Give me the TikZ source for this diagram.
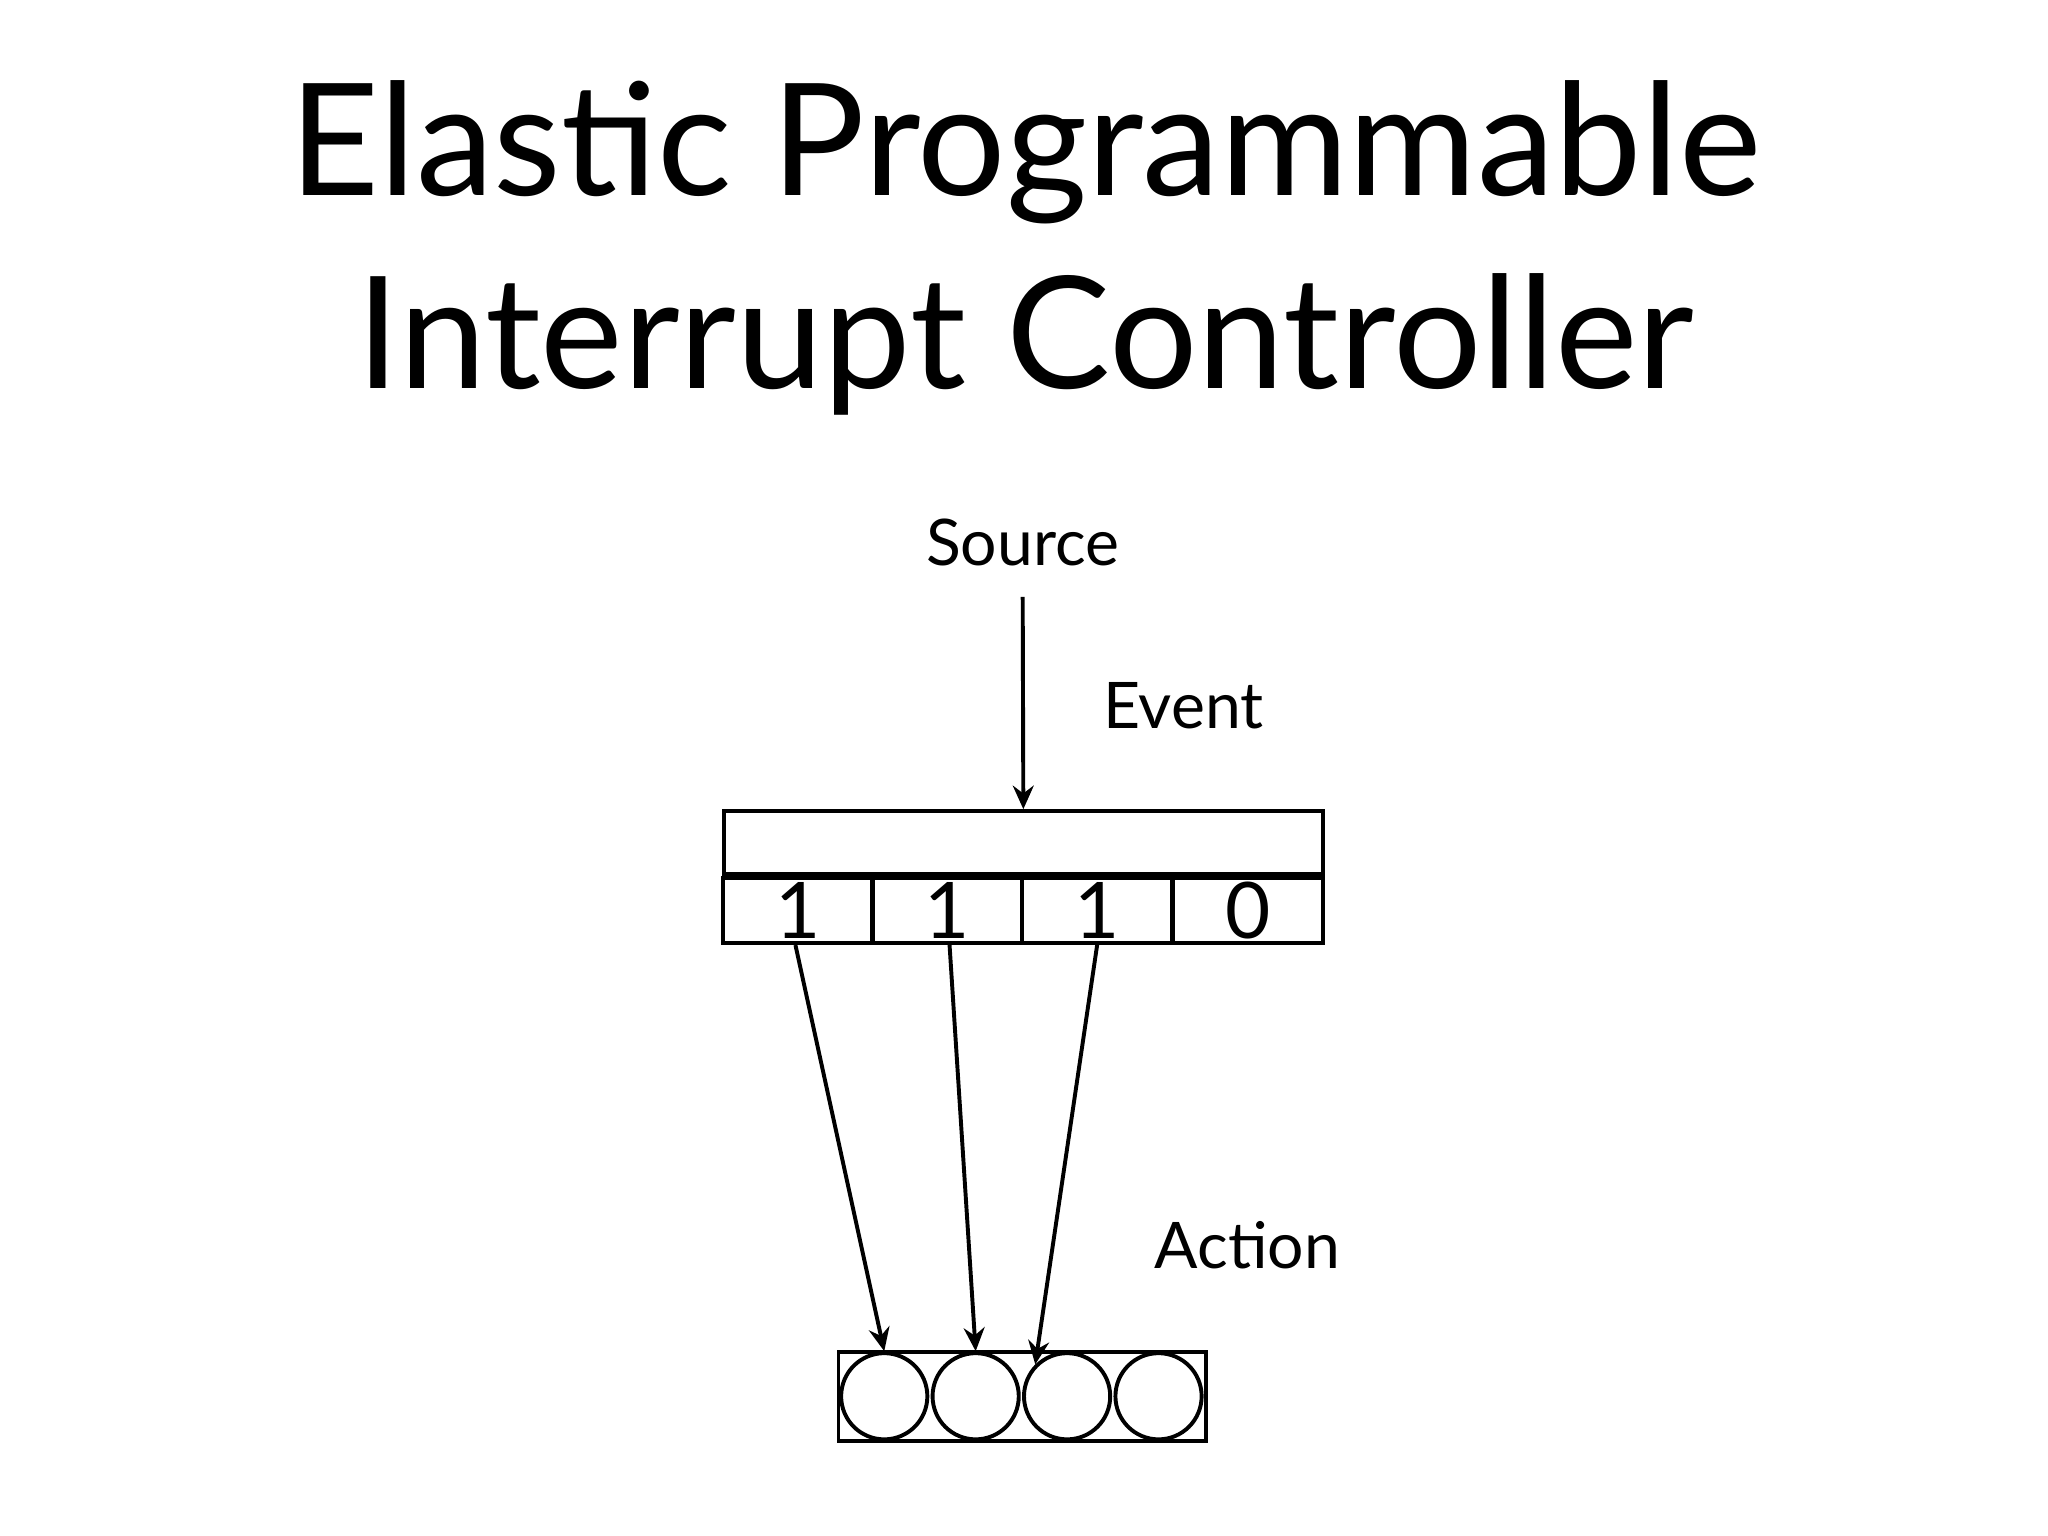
\documentclass[tikz,border=0pt]{standalone}
\usepackage{fontspec}
\setmainfont{Lato}
\usetikzlibrary{arrows.meta}
\begin{document}
\begin{tikzpicture}[x=0.1mm,y=-0.1mm,
  ln/.style={line width=0.3mm},
  arr/.style={ln,-{Stealth[length=1.8mm,width=1.6mm,inset=0.6mm]}},
  lbl/.style={font=\fontsize{14pt}{16pt}\selectfont},
  cell/.style={draw,ln,minimum width=11.5mm,minimum height=5mm,inner sep=0pt,font=\fontsize{17pt}{20pt}\selectfont},
  ball/.style={draw,ln,circle,minimum size=6.6mm,inner sep=0pt}]
\useasboundingbox (0,0) rectangle (1568,1176);
\node[font=\fontsize{34pt}{42pt}\selectfont,align=center] (title) at (785,190) {Elastic Programmable\\Interrupt Controller};
\node[lbl] (src) at (783,415) {Source};
\node[lbl] (ev) at (906,540) {Event};
\node[lbl] (act) at (955,953) {Action};
\node[draw,ln,minimum width=45.9mm,minimum height=4.8mm,inner sep=0pt] (reg) at (783.5,645) {};
\node[cell] (c1) at (611,697) {1};
\node[cell] (c2) at (725,697) {1};
\node[cell] (c3) at (840,697) {1};
\node[cell] (c4) at (955.5,697) {0};
\node[draw,ln,minimum width=28.1mm,minimum height=6.8mm,inner sep=0pt] (q) at (782.5,1069) {};
\node[ball] (b1) at (677,1069) {};
\node[ball] (b2) at (747,1069) {};
\node[ball] (b3) at (817,1069) {};
\node[ball] (b4) at (887,1069) {};
\draw[arr] (783,457) -- (reg.north);
\draw[arr] (c1.south) ++(-2,0) coordinate (s1) -- (b1.north);
\draw[arr] (c2.south) ++(2,0) coordinate (s2) -- (b2.north);
\draw[arr] (c3.south) -- (b3.north west);
\end{tikzpicture}
\end{document}
